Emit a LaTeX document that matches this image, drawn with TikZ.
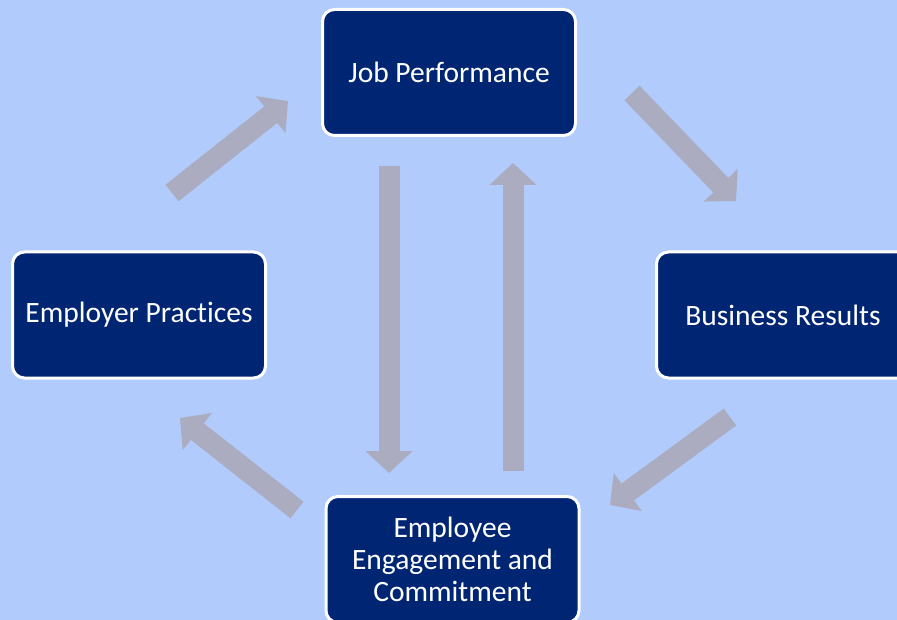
\documentclass[tikz,border=0pt]{standalone}
\usepackage{fontspec}
\setmainfont[Ligatures={NoCommon,NoRare}]{Carlito}
\usetikzlibrary{arrows.meta}
\definecolor{bgblue}{HTML}{B0CBFC}
\definecolor{navy}{HTML}{002673}
\definecolor{arrowgray}{HTML}{ABACC0}
\tikzset{
  box/.style={draw=white, line width=3pt, fill=navy, rounded corners=12pt,
    minimum width=253pt, minimum height=126pt, text=white, align=center,
    font=\fontsize{29.5}{32}\selectfont, inner sep=0pt},
  blockarrow/.style={draw=arrowgray, line width=21pt, line cap=butt,
    -{Triangle[length=22pt,width=46pt]}}
}
\begin{document}
\begin{tikzpicture}[x=1pt,y=-1pt]
\fill[bgblue] (0,0) rectangle (897,620);
\useasboundingbox (0,0) rectangle (897,620);
\clip (0,0) rectangle (897,620);
\node[box] (jp) at (449,72.5) {Job Performance};
\node[box] (ep) at (139,315) {Employer Practices};
\node[box] (br) at (783,315) {Business Results};
\node[box] (ee) at (452.5,559.5) {Employee\\Engagement and\\Commitment};
% arrow end points
\coordinate (a1s) at (172,193); \coordinate (a1e) at (288,101);
\coordinate (a2s) at (632,93);  \coordinate (a2e) at (736,201);
\coordinate (a3s) at (730,417); \coordinate (a3e) at (610,505);
\coordinate (a4s) at (297,510); \coordinate (a4e) at (180,418);
\coordinate (a5s) at (389,166); \coordinate (a5e) at (389,473);
\coordinate (a6s) at (513,471); \coordinate (a6e) at (513,163);
\draw[blockarrow] (a1s) -- (a1e);
\draw[blockarrow] (a2s) -- (a2e);
\draw[blockarrow] (a3s) -- (a3e);
\draw[blockarrow] (a4s) -- (a4e);
\draw[blockarrow] (a5s) -- (a5e);
\draw[blockarrow] (a6s) -- (a6e);
\end{tikzpicture}
\end{document}
